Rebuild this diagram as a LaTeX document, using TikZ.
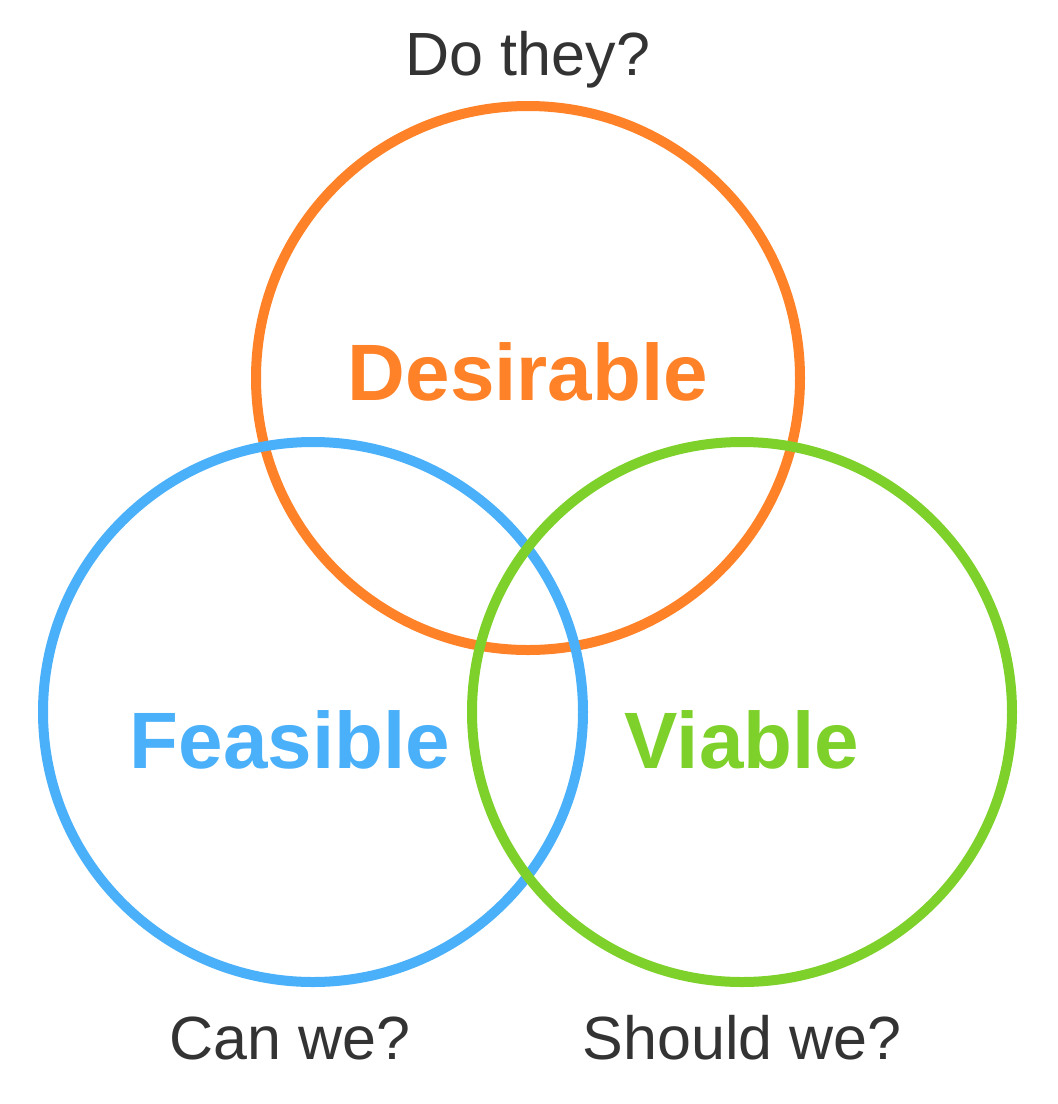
\documentclass[tikz,border=0pt]{standalone}
\usepackage{fontspec}
\setmainfont{Liberation Sans}
\definecolor{cor}{HTML}{FF8228}
\definecolor{cbl}{HTML}{4AB0FA}
\definecolor{cgr}{HTML}{7ED12A}
\definecolor{ctx}{HTML}{333333}
\begin{document}
\begin{tikzpicture}[x=1pt,y=-1pt,
  ring/.style={line width=10pt},
  q/.style={text=ctx,font=\fontsize{61}{70}\selectfont},
  big/.style={font=\bfseries\fontsize{80}{96}\selectfont}]
\useasboundingbox (0,0) rectangle (1058,1104);
\draw[ring,cor] (528,378) circle[radius=272];
\draw[ring,cbl] (313,712) circle[radius=270];
\draw[ring,cgr] (742,712) circle[radius=270];
\node[q] (t1) at (528,60) {Do they?};
\node[q] (t2) at (290,1038) {Can we?};
\node[q] (t3) at (742,1038) {Should we?};
\node[big,text=cor] (d) at (528,372) {Desirable};
\node[big,text=cbl] (f) at (290,740) {Feasible};
\node[big,text=cgr] (v) at (742,740) {Viable};
\end{tikzpicture}
\end{document}
